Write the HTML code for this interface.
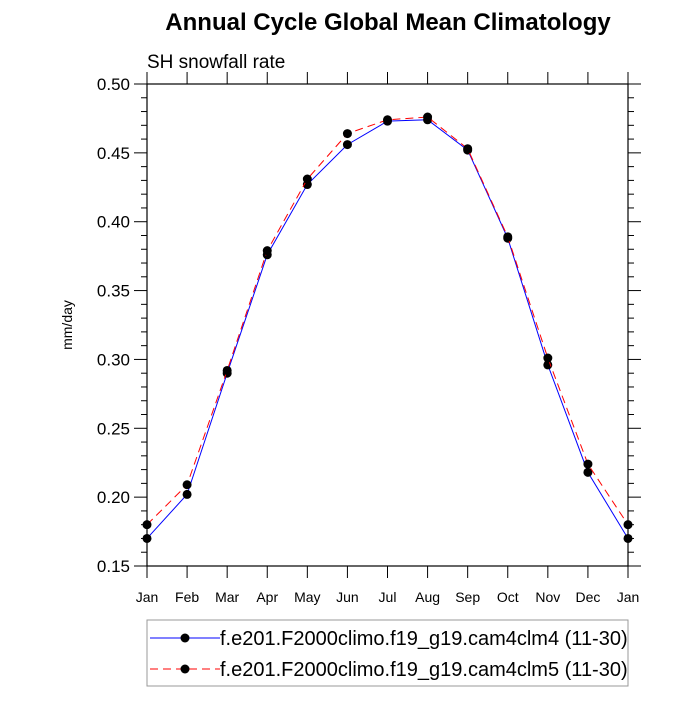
<!DOCTYPE html>
<html><head><meta charset="utf-8"><style>body{margin:0;background:#fff}svg text{font-family:"Liberation Sans",sans-serif}</style></head>
<body>
<svg id="c" width="700" height="700">
<text x="388" y="30" text-anchor="middle" font-size="24" font-weight="bold">Annual Cycle Global Mean Climatology</text>
<text x="147" y="68" font-size="19">SH snowfall rate</text>
<text transform="translate(72,325) rotate(-90)" text-anchor="middle" font-size="14">mm/day</text>
<g id="axes"></g><g id="series"></g>
<rect x="147" y="620" width="481" height="66" fill="none" stroke="#999" stroke-width="1"/>
<g>
<line x1="150" y1="638" x2="220" y2="638" stroke="#0000ff" stroke-width="1"/><circle cx="185" cy="638" r="4.5"/>
<text x="220" y="645" font-size="20">f.e201.F2000climo.f19_g19.cam4clm4 (11-30)</text></g>
<g>
<line x1="150" y1="669" x2="220" y2="669" stroke="#ff0000" stroke-width="1" stroke-dasharray="8,5"/><circle cx="185" cy="669" r="4.5"/>
<text x="220" y="676" font-size="20">f.e201.F2000climo.f19_g19.cam4clm5 (11-30)</text></g>
</svg>
<script>
const months=["Jan","Feb","Mar","Apr","May","Jun","Jul","Aug","Sep","Oct","Nov","Dec","Jan"];
const cam4=[0.170,0.202,0.290,0.376,0.427,0.456,0.473,0.474,0.452,0.388,0.296,0.218,0.170];
const clm5=[0.180,0.209,0.292,0.379,0.431,0.464,0.474,0.476,0.453,0.389,0.301,0.224,0.180];
const yTicks=["0.15","0.20","0.25","0.30","0.35","0.40","0.45","0.50"];
const X0=147,X1=628,Y0=566,Y1=84,ymin=0.15,ymax=0.50;
const xs=i=>X0+(X1-X0)*i/(months.length-1);
const ys=v=>Y0-(v-ymin)/(ymax-ymin)*(Y0-Y1);
const NS="http://www.w3.org/2000/svg";
function mk(t,a,p){const e=document.createElementNS(NS,t);for(const k in a)e.setAttribute(k,a[k]);p.appendChild(e);return e;}
const ax=document.getElementById('axes'),se=document.getElementById('series');
const fr=mk('rect',{x:X0,y:Y1,width:X1-X0,height:Y0-Y1,fill:'none',stroke:'#000','stroke-width':1.2},ax);


for(let v=ymin;v<=ymax+1e-9;v+=0.01){const y=ys(v);const maj=Math.abs(Math.round(v*100)%5)<1e-6;const L=maj?13:6;
mk('line',{x1:X0-L,y1:y,x2:X0,y2:y,stroke:'#000'},ax);mk('line',{x1:X1,y1:y,x2:X1+L,y2:y,stroke:'#000'},ax);}
yTicks.forEach(t=>{const e=mk('text',{x:X0-17,y:ys(+t)+6,'text-anchor':'end','font-size':17},ax);e.textContent=t;

});
months.forEach((m,i)=>{const x=xs(i);mk('line',{x1:x,y1:Y0,x2:x,y2:Y0+12,stroke:'#000'},ax);mk('line',{x1:x,y1:Y1,x2:x,y2:Y1-12,stroke:'#000'},ax);
const e=mk('text',{x:x,y:Y0+36,'text-anchor':'middle','font-size':14},ax);e.textContent=m;

});
function draw(vals,col,dash,name){const g=mk('g',{},se);


mk('polyline',{points:vals.map((v,i)=>xs(i)+','+ys(v)).join(' '),fill:'none',stroke:col,'stroke-width':1,'stroke-dasharray':dash},g);
vals.forEach((v,i)=>mk('circle',{cx:xs(i),cy:ys(v),r:4.5,fill:'#000'},g));}
draw(cam4,'#0000ff','none','series-cam4clm4');
draw(clm5,'#ff0000','8,5','series-cam4clm5');
</script>
</body></html>
